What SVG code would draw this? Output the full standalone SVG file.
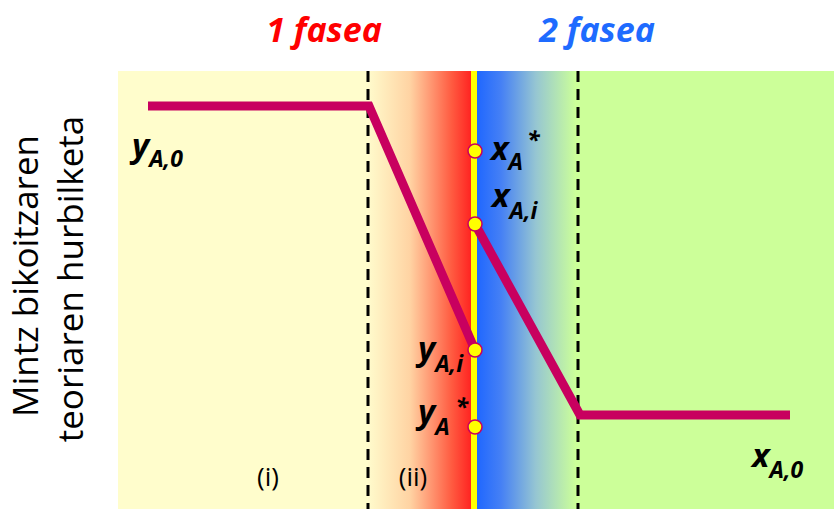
<svg xmlns="http://www.w3.org/2000/svg" width="834" height="509" viewBox="0 0 834 509">
<defs>
<linearGradient id="gRed" x1="0" y1="0" x2="1" y2="0">
<stop offset="0" stop-color="#FFFBCC"/>
<stop offset="0.4" stop-color="#FFD3A3"/>
<stop offset="0.8" stop-color="#FF5A40"/>
<stop offset="1" stop-color="#FF1E1E"/>
</linearGradient>
<linearGradient id="gBlue" x1="0" y1="0" x2="1" y2="0">
<stop offset="0" stop-color="#1E66FF"/>
<stop offset="0.25" stop-color="#4580F5"/>
<stop offset="0.6" stop-color="#96C6D2"/>
<stop offset="1" stop-color="#CCFF99"/>
</linearGradient>
<style>
.lbl{font-family:"Open Sans","Noto Sans","Liberation Sans",sans-serif;font-weight:bold;font-style:italic;fill:#000}
.main{font-size:33px}
.sub{font-size:23px}
.sup{font-size:23px}
.dash{stroke:#000;stroke-width:3;stroke-dasharray:11 7;fill:none}
.prof{stroke:#C8005F;stroke-width:9;fill:none;stroke-linejoin:miter}
.pt{fill:#FFFF00;stroke:#C8005F;stroke-width:1.5}
.reg{font-family:"Open Sans","Noto Sans","Liberation Sans",sans-serif;font-size:26px;fill:#000}
.axis{font-family:"Open Sans","Noto Sans","Liberation Sans",sans-serif;font-size:35px;fill:#000}
.title{font-family:"Open Sans","Noto Sans","Liberation Sans",sans-serif;font-weight:bold;font-style:italic;font-size:34px}
</style>
</defs>
<rect width="834" height="509" fill="#FFFFFF"/>
<g id="backgrounds">
<rect x="118" y="71" width="252" height="438" fill="#FFFDCC"/>
<rect x="368" y="71" width="105" height="438" fill="url(#gRed)"/>
<rect x="476" y="71" width="100" height="438" fill="url(#gBlue)"/>
<rect x="575" y="71" width="259" height="438" fill="#CCFF99"/>
<rect x="471" y="71" width="6" height="438" fill="#FFFF00"/>
</g>
<g id="boundaries">
<line class="dash" x1="368" y1="71" x2="368" y2="509"/>
<line class="dash" x1="578" y1="71" x2="578" y2="509"/>
</g>
<g id="connectors">
<polyline class="prof" points="148,106 369,106 475,350"/>
<polyline class="prof" points="475,224 580,415 790,415"/>
</g>
<g id="points">
<circle class="pt" cx="475" cy="151" r="7"/>
<circle class="pt" cx="475" cy="224" r="7"/>
<circle class="pt" cx="475" cy="350" r="7"/>
<circle class="pt" cx="475" cy="427" r="7"/>
</g>
<g id="titles">
<text class="title" x="324" y="42" text-anchor="middle" fill="#FF0000">1 fasea</text>
<text class="title" x="597" y="42" text-anchor="middle" fill="#1E6BFF">2 fasea</text>
</g>
<g id="axis-label">
<text class="axis" transform="translate(38,276) rotate(-90)" text-anchor="middle">Mintz bikoitzaren</text>
<text class="axis" transform="translate(83,279) rotate(-90)" text-anchor="middle">teoriaren hurbilketa</text>
</g>
<g id="regions">
<text class="reg" x="268" y="486" text-anchor="middle">(i)</text>
<text class="reg" x="413" y="486" text-anchor="middle">(ii)</text>
</g>
<g id="labels">
<text class="lbl" x="132" y="157"><tspan class="main">y</tspan><tspan class="sub" dy="10">A,0</tspan></text>
<text class="lbl" x="491" y="160"><tspan class="main">x</tspan><tspan class="sub" dy="10">A</tspan><tspan class="sup" dx="4" dy="-22">*</tspan></text>
<text class="lbl" x="492" y="207"><tspan class="main">x</tspan><tspan class="sub" dy="12">A,i</tspan></text>
<text class="lbl" x="418" y="360"><tspan class="main">y</tspan><tspan class="sub" dy="12">A,i</tspan></text>
<text class="lbl" x="418" y="423"><tspan class="main">y</tspan><tspan class="sub" dy="12">A</tspan><tspan class="sup" dx="6" dy="-20">*</tspan></text>
<text class="lbl" x="752" y="467"><tspan class="main">x</tspan><tspan class="sub" dy="11">A,0</tspan></text>
</g>
</svg>
